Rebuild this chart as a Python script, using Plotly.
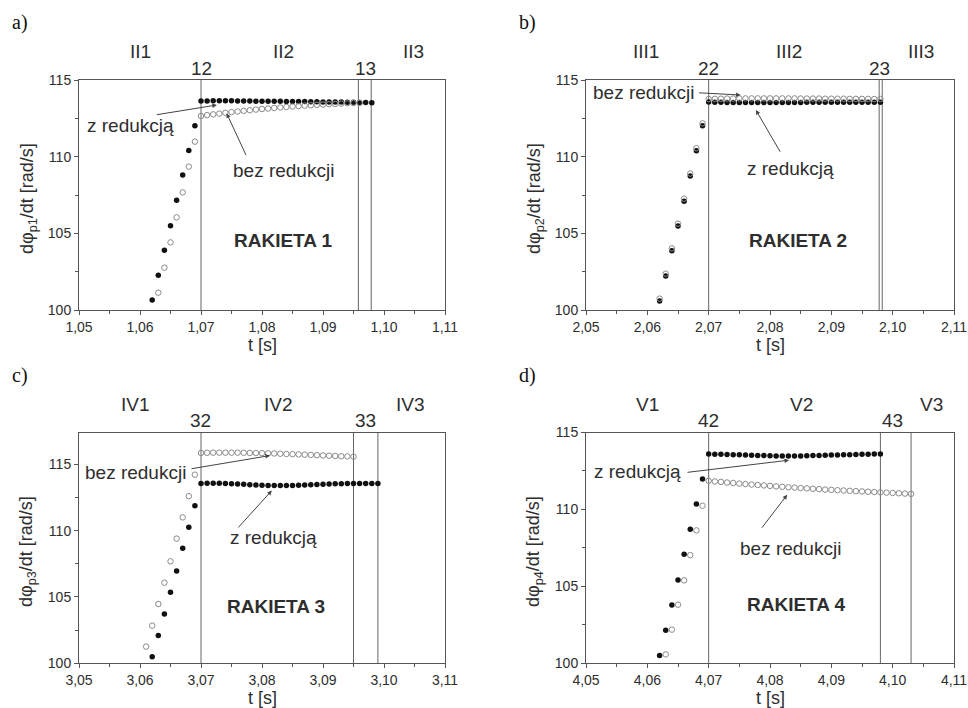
import plotly.graph_objects as go

# ---------------- DATA ----------------
# Panel a) RAKIETA 1
a_t_red = [1.062, 1.063, 1.064, 1.065, 1.066, 1.067, 1.068, 1.069, 1.070, 1.071, 1.072, 1.073, 1.074,
           1.075, 1.076, 1.077, 1.078, 1.079, 1.080, 1.081, 1.082, 1.083, 1.084, 1.085, 1.086, 1.087,
           1.088, 1.089, 1.090, 1.091, 1.092, 1.093, 1.094, 1.095, 1.096, 1.097, 1.098]
a_v_red = [100.65, 102.26, 103.89, 105.50, 107.15, 108.80, 110.41, 112.02,
           113.63, 113.63, 113.64, 113.64, 113.64, 113.64, 113.63, 113.63, 113.63, 113.62,
           113.62, 113.62, 113.61, 113.61, 113.60, 113.60, 113.59, 113.59, 113.58, 113.58,
           113.57, 113.57, 113.56, 113.56, 113.55, 113.55, 113.54, 113.53, 113.52]
a_t_bez = [1.063, 1.064, 1.065, 1.066, 1.067, 1.068, 1.069, 1.070, 1.071, 1.072, 1.073, 1.074,
           1.075, 1.076, 1.077, 1.078, 1.079, 1.080, 1.081, 1.082, 1.083, 1.084, 1.085, 1.086,
           1.087, 1.088, 1.089, 1.090, 1.091, 1.092, 1.093, 1.094, 1.095, 1.096]
a_v_bez = [101.13, 102.76, 104.41, 106.04, 107.67, 109.35, 110.98,
           112.65, 112.71, 112.76, 112.81, 112.86, 112.91, 112.95, 112.99, 113.03, 113.07,
           113.11, 113.14, 113.18, 113.21, 113.24, 113.27, 113.30, 113.33, 113.35, 113.38,
           113.40, 113.42, 113.44, 113.46, 113.48, 113.49, 113.51]

# Panel b) RAKIETA 2
b_t_red = [2.062, 2.063, 2.064, 2.065, 2.066, 2.067, 2.068, 2.069, 2.070, 2.071, 2.072, 2.073, 2.074,
           2.075, 2.076, 2.077, 2.078, 2.079, 2.080, 2.081, 2.082, 2.083, 2.084, 2.085, 2.086, 2.087,
           2.088, 2.089, 2.090, 2.091, 2.092, 2.093, 2.094, 2.095, 2.096, 2.097, 2.098]
b_v_red = [100.59, 102.22, 103.87, 105.48, 107.10, 108.74, 110.39, 112.02,
           113.56, 113.55, 113.55, 113.54, 113.54, 113.54, 113.53, 113.53, 113.53, 113.53,
           113.53, 113.53, 113.54, 113.54, 113.54, 113.54, 113.55, 113.55, 113.55, 113.55,
           113.55, 113.55, 113.55, 113.55, 113.55, 113.55, 113.55, 113.55, 113.55]
b_t_bez = [2.062, 2.063, 2.064, 2.065, 2.066, 2.067, 2.068, 2.069, 2.070, 2.071, 2.072, 2.073, 2.074,
           2.075, 2.076, 2.077, 2.078, 2.079, 2.080, 2.081, 2.082, 2.083, 2.084, 2.085, 2.086, 2.087,
           2.088, 2.089, 2.090, 2.091, 2.092, 2.093, 2.094, 2.095, 2.096, 2.097, 2.098]
b_v_bez = [100.74, 102.37, 104.02, 105.63, 107.26, 108.90, 110.55, 112.17,
           113.76, 113.77, 113.78, 113.79, 113.79, 113.80, 113.80, 113.80, 113.80, 113.80,
           113.80, 113.80, 113.80, 113.80, 113.80, 113.79, 113.79, 113.79, 113.79, 113.78,
           113.78, 113.78, 113.78, 113.77, 113.77, 113.77, 113.77, 113.76, 113.76]

# Panel c) RAKIETA 3
c_t_red = [3.062, 3.063, 3.064, 3.065, 3.066, 3.067, 3.068, 3.069, 3.070, 3.071, 3.072, 3.073, 3.074,
           3.075, 3.076, 3.077, 3.078, 3.079, 3.080, 3.081, 3.082, 3.083, 3.084, 3.085, 3.086, 3.087,
           3.088, 3.089, 3.090, 3.091, 3.092, 3.093, 3.094, 3.095, 3.096, 3.097, 3.098, 3.099]
c_v_red = [100.50, 102.09, 103.72, 105.35, 106.96, 108.67, 110.25, 111.88,
           113.56, 113.57, 113.58, 113.57, 113.56, 113.54, 113.52, 113.50, 113.47, 113.45,
           113.43, 113.41, 113.40, 113.40, 113.40, 113.41, 113.42, 113.44, 113.46, 113.48,
           113.50, 113.52, 113.53, 113.54, 113.55, 113.55, 113.55, 113.55, 113.55, 113.55]
c_t_bez = [3.061, 3.062, 3.063, 3.064, 3.065, 3.066, 3.067, 3.068, 3.069, 3.070, 3.071, 3.072, 3.073,
           3.074, 3.075, 3.076, 3.077, 3.078, 3.079, 3.080, 3.081, 3.082, 3.083, 3.084, 3.085, 3.086,
           3.087, 3.088, 3.089, 3.090, 3.091, 3.092, 3.093, 3.094, 3.095]
c_v_bez = [101.26, 102.84, 104.47, 106.08, 107.69, 109.40, 111.00, 112.60, 114.22,
           115.86, 115.87, 115.88, 115.88, 115.88, 115.88, 115.88, 115.87, 115.86, 115.85,
           115.84, 115.83, 115.82, 115.80, 115.78, 115.77, 115.75, 115.73, 115.71, 115.69,
           115.67, 115.65, 115.63, 115.61, 115.60, 115.58]

# Panel d) RAKIETA 4
d_t_red = [4.062, 4.063, 4.064, 4.065, 4.066, 4.067, 4.068, 4.069, 4.070, 4.071, 4.072, 4.073, 4.074,
           4.075, 4.076, 4.077, 4.078, 4.079, 4.080, 4.081, 4.082, 4.083, 4.084, 4.085, 4.086, 4.087,
           4.088, 4.089, 4.090, 4.091, 4.092, 4.093, 4.094, 4.095, 4.096, 4.097, 4.098]
d_v_red = [100.50, 102.14, 103.79, 105.41, 107.08, 108.72, 110.35, 111.97,
           113.60, 113.59, 113.58, 113.57, 113.56, 113.55, 113.54, 113.52, 113.51, 113.50,
           113.49, 113.48, 113.47, 113.47, 113.47, 113.48, 113.49, 113.50, 113.51, 113.52,
           113.53, 113.54, 113.55, 113.56, 113.57, 113.58, 113.59, 113.60, 113.61]
d_t_bez = [4.063, 4.064, 4.065, 4.066, 4.067, 4.068, 4.069, 4.070, 4.071, 4.072, 4.073, 4.074,
           4.075, 4.076, 4.077, 4.078, 4.079, 4.080, 4.081, 4.082, 4.083, 4.084, 4.085, 4.086,
           4.087, 4.088, 4.089, 4.090, 4.091, 4.092, 4.093, 4.094, 4.095, 4.096, 4.097, 4.098,
           4.099, 4.100, 4.101, 4.102, 4.103]
d_v_bez = [100.58, 102.19, 103.81, 105.39, 107.03, 108.64, 110.24,
           111.86, 111.82, 111.79, 111.75, 111.72, 111.68, 111.65, 111.62, 111.59, 111.56,
           111.53, 111.50, 111.47, 111.44, 111.42, 111.39, 111.37, 111.34, 111.32, 111.29,
           111.27, 111.25, 111.23, 111.21, 111.19, 111.17, 111.15, 111.13, 111.11, 111.09,
           111.07, 111.05, 111.03, 111.01]

# Axis ranges and ticks
x_ranges = [[1.05, 1.11], [2.05, 2.11], [3.05, 3.11], [4.05, 4.11]]
x_tickvals = [[1.05, 1.06, 1.07, 1.08, 1.09, 1.10, 1.11],
              [2.05, 2.06, 2.07, 2.08, 2.09, 2.10, 2.11],
              [3.05, 3.06, 3.07, 3.08, 3.09, 3.10, 3.11],
              [4.05, 4.06, 4.07, 4.08, 4.09, 4.10, 4.11]]
x_ticktext = [["1,05", "1,06", "1,07", "1,08", "1,09", "1,10", "1,11"],
              ["2,05", "2,06", "2,07", "2,08", "2,09", "2,10", "2,11"],
              ["3,05", "3,06", "3,07", "3,08", "3,09", "3,10", "3,11"],
              ["4,05", "4,06", "4,07", "4,08", "4,09", "4,10", "4,11"]]
x_minor = [[1.055, 1.065, 1.075, 1.085, 1.095, 1.105],
           [2.055, 2.065, 2.075, 2.085, 2.095, 2.105],
           [3.055, 3.065, 3.075, 3.085, 3.095, 3.105],
           [4.055, 4.065, 4.075, 4.085, 4.095, 4.105]]
y_ranges = [[100, 115], [100, 115], [100, 117.4], [100, 115]]
y_tickvals = [100, 105, 110, 115]
y_minor = [102.5, 107.5, 112.5]

# Vertical separators
vlines = [[1.070, 1.0958, 1.0979], [2.070, 2.0978, 2.0983], [3.070, 3.095, 3.099], [4.070, 4.098, 4.103]]

# Top labels: (x, text)
zone_labels = [[(1.0600, "II1"), (1.0835, "II2"), (1.1048, "II3")],
               [(2.0598, "III1"), (2.0831, "III2"), (2.1046, "III3")],
               [(3.0592, "IV1"), (3.0827, "IV2"), (3.1043, "IV3")],
               [(4.0600, "V1"), (4.0852, "V2"), (4.1064, "V3")]]
node_labels = [[(1.0700, "12"), (1.0970, "13")],
               [(2.0700, "22"), (2.0978, "23")],
               [(3.0699, "32"), (3.0970, "33")],
               [(4.0700, "42"), (4.1000, "43")]]

# Annotations: (text, text_x, text_y, arrow_tail_x, arrow_tail_y, arrow_head_x, arrow_head_y)
arrow_notes = [
    [("z redukcją", 1.0584, 112.0, 1.0625, 112.72, 1.0726, 113.37),
     ("bez redukcji", 1.0835, 109.1, 1.0775, 110.0, 1.0742, 112.83)],
    [("bez redukcji", 2.0594, 114.2, 2.0682, 114.17, 2.0752, 114.02),
     ("z redukcją", 2.0833, 109.2, 2.0818, 110.22, 2.0777, 113.04)],
    [("bez redukcji", 3.0592, 114.4, 3.0682, 114.65, 3.0813, 115.66),
     ("z redukcją", 3.0819, 109.5, 3.0759, 110.13, 3.0816, 113.02)],
    [("z redukcją", 4.0584, 112.45, 4.0663, 112.4, 4.0831, 113.2),
     ("bez redukcji", 4.0834, 107.45, 4.0785, 108.72, 4.0828, 110.95)],
]
rocket_labels = ["RAKIETA 1", "RAKIETA 2", "RAKIETA 3", "RAKIETA 4"]
rocket_pos = [(1.0835, 104.5), (2.0846, 104.5), (3.0823, 104.3), (4.0844, 103.8)]
panel_letters = ["a)", "b)", "c)", "d)"]
y_titles = ["dφ<sub>p1</sub>/dt [rad/s]", "dφ<sub>p2</sub>/dt [rad/s]",
            "dφ<sub>p3</sub>/dt [rad/s]", "dφ<sub>p4</sub>/dt [rad/s]"]

series_red = [(a_t_red, a_v_red), (b_t_red, b_v_red), (c_t_red, c_v_red), (d_t_red, d_v_red)]
series_bez = [(a_t_bez, a_v_bez), (b_t_bez, b_v_bez), (c_t_bez, c_v_bez), (d_t_bez, d_v_bez)]

# ---------------- LAYOUT ----------------
W, H = 968, 708
FONT = "Arial, Liberation Sans, Helvetica, sans-serif"
SERIF = "Times New Roman, Liberation Serif, serif"
AX = "#555555"
TXT = "#2e2e2e"

# plot-area pixel boxes (left, right, top, bottom)
boxes = [(79, 445, 80, 310), (586, 954, 80, 310), (79, 445, 432.5, 663.3), (586, 954, 432.5, 663.3)]

fig = go.Figure()
for i in range(4):
    suffix = "" if i == 0 else str(i + 1)
    xr = "x" + suffix
    yr = "y" + suffix
    fig.add_trace(go.Scatter(x=series_red[i][0], y=series_red[i][1], mode="markers", xaxis=xr, yaxis=yr,
                             marker=dict(symbol="circle", size=5.5, color="#111111"),
                             showlegend=False, hoverinfo="x+y"))
    fig.add_trace(go.Scatter(x=series_bez[i][0], y=series_bez[i][1], mode="markers", xaxis=xr, yaxis=yr,
                             marker=dict(symbol="circle-open", size=5.5, color="#8a8a8a",
                                         line=dict(width=1, color="#8a8a8a")),
                             showlegend=False, hoverinfo="x+y"))

layout = dict(width=W, height=H, margin=dict(l=0, r=0, t=0, b=0, autoexpand=False),
              paper_bgcolor="white", plot_bgcolor="white",
              font=dict(family=FONT, color=TXT), showlegend=False)

shapes = []
annotations = []
for i in range(4):
    L, R, T, B = boxes[i]
    suffix = "" if i == 0 else str(i + 1)
    xa = "xaxis" + suffix
    ya = "yaxis" + suffix
    layout[xa] = dict(domain=[L / W, R / W], range=x_ranges[i], anchor="y" + suffix, automargin=False,
                      tickvals=x_tickvals[i], ticktext=x_ticktext[i],
                      ticks="outside", ticklen=4, tickwidth=1, tickcolor=AX,
                      minor=dict(tickvals=x_minor[i], ticks="outside", ticklen=3, tickcolor=AX, showgrid=False),
                      showline=True, linecolor=AX, linewidth=1, mirror=True,
                      showgrid=False, zeroline=False, fixedrange=True,
                      tickfont=dict(size=14, color=TXT, family=FONT))
    layout[ya] = dict(domain=[1 - B / H, 1 - T / H], range=y_ranges[i], anchor="x" + suffix, automargin=False,
                      tickvals=y_tickvals, ticktext=[str(v) for v in y_tickvals],
                      ticks="outside", ticklen=4, tickwidth=1, tickcolor=AX,
                      minor=dict(tickvals=y_minor, ticks="outside", ticklen=3, tickcolor=AX, showgrid=False),
                      showline=True, linecolor=AX, linewidth=1, mirror=True,
                      showgrid=False, zeroline=False, fixedrange=True,
                      tickfont=dict(size=14, color=TXT, family=FONT))
    xref = "x" + suffix
    yref = "y" + suffix
    for xv in vlines[i]:
        shapes.append(dict(type="line", xref=xref, yref=yref + " domain", x0=xv, x1=xv, y0=0, y1=1,
                           line=dict(color="#666666", width=1), layer="below"))
    # zone labels and node labels above plot
    for xv, txt in zone_labels[i]:
        annotations.append(dict(x=xv, xref=xref, y=1 - (T - 28) / H, yref="paper", text=txt,
                                showarrow=False, font=dict(size=19, color=TXT, family=FONT),
                                xanchor="center", yanchor="middle"))
    for xv, txt in node_labels[i]:
        annotations.append(dict(x=xv, xref=xref, y=1 - (T - 12) / H, yref="paper", text=txt,
                                showarrow=False, font=dict(size=19, color=TXT, family=FONT),
                                xanchor="center", yanchor="middle"))
    # arrow annotations
    for txt, tx, ty, ax0, ay0, hx, hy in arrow_notes[i]:
        annotations.append(dict(x=tx, y=ty, xref=xref, yref=yref, text=txt, showarrow=False,
                                font=dict(size=19, color=TXT, family=FONT),
                                xanchor="center", yanchor="middle"))
        annotations.append(dict(x=hx, y=hy, xref=xref, yref=yref, ax=ax0, ay=ay0,
                                axref=xref, ayref=yref, text="", showarrow=True,
                                arrowhead=2, arrowsize=0.9, arrowwidth=1, arrowcolor="#444444"))
    # rocket label
    annotations.append(dict(x=rocket_pos[i][0], y=rocket_pos[i][1], xref=xref, yref=yref,
                            text="<b>" + rocket_labels[i] + "</b>", showarrow=False,
                            font=dict(size=19, color=TXT, family=FONT),
                            xanchor="center", yanchor="middle"))
    # axis titles
    annotations.append(dict(x=(L + R) / 2 / W, y=1 - (B + 35) / H, xref="paper", yref="paper",
                            text="t [s]", showarrow=False, font=dict(size=18, color=TXT, family=FONT),
                            xanchor="center", yanchor="middle"))
    annotations.append(dict(x=(L - 51) / W, y=1 - ((T + B) / 2 + 4) / H, xref="paper", yref="paper",
                            text=y_titles[i], showarrow=False, textangle=-90,
                            font=dict(size=18, color=TXT, family=FONT),
                            xanchor="center", yanchor="middle"))
    # panel letter
    annotations.append(dict(x=(L - 69) / W, y=1 - (T - 57) / H, xref="paper", yref="paper",
                            text=panel_letters[i], showarrow=False,
                            font=dict(size=20, color="#111111", family=SERIF),
                            xanchor="left", yanchor="middle"))

layout["shapes"] = shapes
layout["annotations"] = annotations
fig.update_layout(**layout)
fig.write_html("out.html", config={"displayModeBar": False},
               post_script="document.body.style.margin='0px';document.body.style.overflow='hidden';")
